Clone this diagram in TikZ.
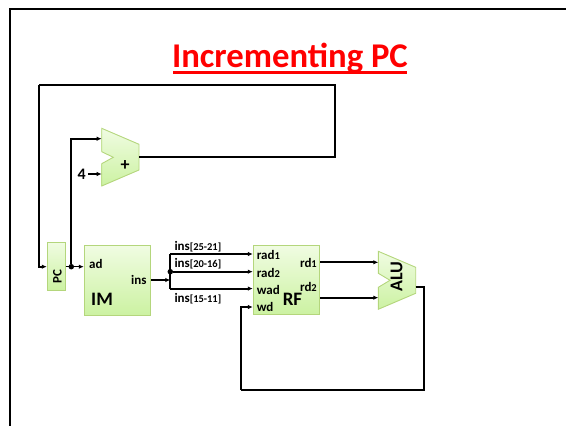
\documentclass[tikz,border=0pt]{standalone}
\usepackage{fontspec}
\setmainfont{Carlito}
\usepackage{tikz}
\usetikzlibrary{arrows.meta}

\definecolor{blockedge}{HTML}{B4D67C}
\definecolor{blocktop}{HTML}{F0FCE2}
\definecolor{blockbot}{HTML}{CCF2A2}

\tikzset{
	blockfill/.style={draw=blockedge, line width=0.9, top color=blocktop, bottom color=blockbot},
	block/.style={blockfill, rectangle, inner sep=0pt},
	wire/.style={draw=black, line width=1.4},
	bus/.style={draw=black, line width=2},
	lbl/.style={inner sep=0pt, font=\bfseries\fontsize{13}{13}\selectfont},
	big/.style={inner sep=0pt, font=\bfseries\fontsize{19}{19}\selectfont},
	dot/.style={circle, fill=black, inner sep=0pt, minimum size=5.5pt},
	>={Latex[length=5pt, width=4.5pt]}
}
\newcommand{\sm}[1]{{\fontsize{10.5}{10.5}\selectfont #1}}

\begin{document}
\begin{tikzpicture}[x=1pt, y=-1pt]
	\useasboundingbox (0,0) rectangle (566,426);

	\draw[line width=2] (9.5,426) -- (9.5,9) -- (566,9);

	\node[inner sep=0pt, text=red, font=\bfseries\fontsize{34.7}{35}\selectfont] (title) at (290,58) {Incrementing PC};
	\draw[red, line width=2.6] (173,72.5) -- (407,72.5);

	\node[block, minimum width=18pt, minimum height=48pt] (pc) at (56.3,266) {};
	\node[block, minimum width=66.4pt, minimum height=69.7pt] (im) at (117.5,280.2) {};
	\node[block, minimum width=66.4pt, minimum height=69pt] (rf) at (286.5,279.8) {};

	\draw[blockfill] (101.7,128.3) coordinate (addtop) -- (139,144.3) -- (139,157) coordinate (addout) -- (139,170) -- (101.7,186) -- (101.7,174) coordinate (addb) -- (101.7,163.7) -- (113.3,157.3) -- (101.7,151.7) -- (101.7,138.7) coordinate (adda) -- cycle;
	\draw[blockfill] (378.3,251.3) -- (415.7,267.3) -- (415.7,287.3) coordinate (aluout) -- (415.7,293.3) -- (378.3,309.3) -- (378.3,297.7) coordinate (alub) -- (378.3,287.3) -- (390,280.3) -- (378.3,273.3) -- (378.3,262.3) coordinate (alua) -- cycle;

	\node[lbl, rotate=90] (pclbl) at (57.5,276.5) {PC};
	\node[lbl, anchor=west] (adlbl) at (89,264) {ad};
	\node[lbl, anchor=east] (inslbl) at (146.7,280) {ins};
	\node[big, anchor=west] (imlbl) at (91,299) {IM};
	\node[lbl, anchor=west] (ins1) at (174.3,247) {ins\sm{[25-21]}};
	\node[lbl, anchor=west] (ins2) at (174.3,264) {ins\sm{[20-16]}};
	\node[lbl, anchor=west] (ins3) at (174.3,299) {ins\sm{[15-11]}};
	\node[lbl, anchor=west] (rad1) at (256.7,255) {rad\sm{1}};
	\node[lbl, anchor=west] (rad2) at (256.7,273) {rad\sm{2}};
	\node[lbl, anchor=west] (wad) at (256.7,290) {wad};
	\node[lbl, anchor=west] (wd) at (256.7,307) {wd};
	\node[lbl, anchor=east] (rd1) at (317,263) {rd\sm{1}};
	\node[lbl, anchor=east] (rd2) at (317,286.7) {rd\sm{2}};
	\node[big] (rflbl) at (292.5,299.7) {RF};
	\node[inner sep=0pt, rotate=90, font=\bfseries\fontsize{18}{18}\selectfont] (alulbl) at (396.7,276.7) {ALU};
	\node[inner sep=0pt, font=\bfseries\fontsize{18}{18}\selectfont] (plus) at (125,166) {+};
	\node[inner sep=0pt, font=\bfseries\fontsize{16}{16}\selectfont] (four) at (81.7,174) {4};

	\node[dot] (pcdot) at (71.3,266.7) {};
	\node[dot] (insdot) at (170.3,271.7) {};
	\coordinate (feedtop) at (39,85);
	\coordinate (feedright) at (335,85);
	\coordinate (busa) at (170.3,254);
	\coordinate (busc) at (170.3,288.6);
	\coordinate (loop) at (240.7,389.7);
	\coordinate (loopr) at (424,389.7);

	\draw[wire, ->] (pc.east |- pcdot) -- (im.west |- pcdot);
	\draw[bus, ->] (pcdot) |- (adda);
	\draw[wire, ->] (four.east) ++(2,0) -- (addb);
	\draw[bus] (addout) -| (feedright) -- (feedtop);
	\draw[bus, ->] (feedtop) |- (pc.west |- pcdot);
	\draw[wire, ->] (im.east |- inslbl) -- (170.3,280);
	\draw[bus] (busa) -- (busc);
	\draw[bus, ->] (busa) -- (rf.west |- busa);
	\draw[bus, ->] (insdot) -- (rf.west |- insdot);
	\draw[bus, ->] (busc) -- (rf.west |- busc);
	\draw[bus, ->] (rf.east |- alua) -- (alua);
	\draw[bus, ->] (rf.east |- alub) -- (alub);
	\draw[bus] (aluout) -| (loopr) -- (loop);
	\draw[bus, ->] (loop) |- (rf.west |- wd);
\end{tikzpicture}
\end{document}
